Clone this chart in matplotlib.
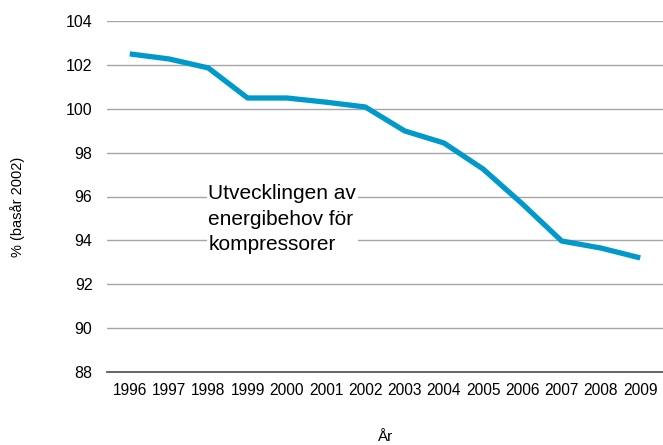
import matplotlib
matplotlib.use("Agg")
import matplotlib.pyplot as plt

years = ["1996", "1997", "1998", "1999", "2000", "2001", "2002",
         "2003", "2004", "2005", "2006", "2007", "2008", "2009"]
values = [102.5, 102.27, 101.86, 100.49, 100.49, 100.3, 100.08,
          98.99, 98.44, 97.25, 95.66, 93.97, 93.65, 93.2]
yticks = [88, 90, 92, 94, 96, 98, 100, 102, 104]

plt.rcParams['font.family'] = ['Liberation Sans', 'DejaVu Sans']

fig = plt.figure(figsize=(6.63, 4.45), dpi=100)
L, R, T, B = 107, 663, 21, 372
ax = fig.add_axes([L/663, 1 - B/445, (R-L)/663, (B-T)/445])

x = list(range(len(years)))
ax.plot(x, values, color="#0099CC", linewidth=3.8, solid_capstyle="butt", zorder=3)

ax.set_xlim(-0.58, len(years) - 0.42)
ax.set_ylim(88, 104)
ax.set_yticks(yticks)
ax.set_yticklabels([str(t) for t in yticks], fontsize=11.5)
ax.set_xticks(x)
ax.set_xticklabels(years, fontsize=11.2)
ax.tick_params(axis='both', length=0)
ax.tick_params(axis='y', pad=10.5)
ax.tick_params(axis='x', pad=8)

ax.grid(axis='y', color="#A6A6A6", linewidth=1.0, zorder=0)
ax.set_axisbelow(True)
for s in ['left', 'right', 'top']:
    ax.spines[s].set_visible(False)
ax.spines['bottom'].set_color("#595959")
ax.spines['bottom'].set_linewidth(1.3)

ax.set_ylabel("% (basår 2002)", fontsize=10.5, va='center')
ax.yaxis.set_label_coords((18 - L) / (R - L), (B - 207) / (B - T))
ax.set_xlabel("År", fontsize=11, va='center')
ax.xaxis.set_label_coords(0.5, (B - 437) / (B - T))

ax.text(2.0, 96.58, "Utvecklingen av\nenergibehov för\nkompressorer", fontsize=15,
        ha='left', va='top', linespacing=1.45,
        bbox=dict(facecolor='white', edgecolor='none', pad=1), zorder=4)

fig.savefig("out.png", dpi=100)
